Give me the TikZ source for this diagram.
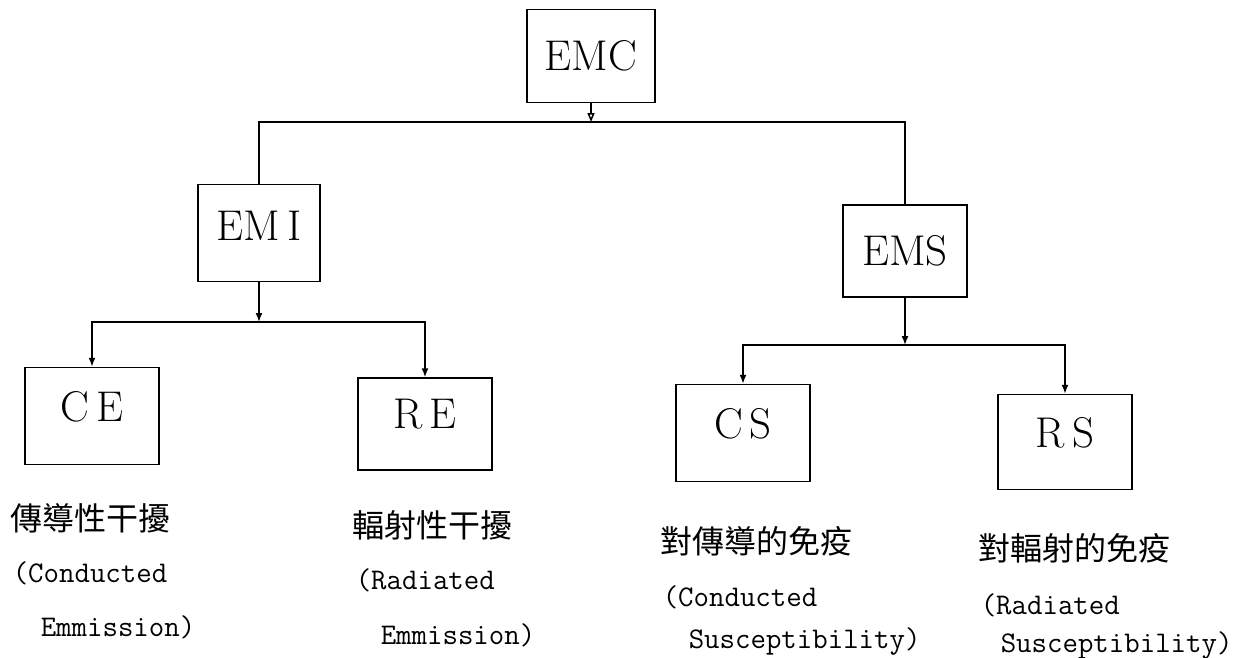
\documentclass[tikz,border=0pt]{standalone}
\usepackage{fontspec}
\usepackage{tikz}
\usetikzlibrary{arrows.meta}
\newfontfamily\cjk{Noto Sans CJK TC}

\begin{document}
\begin{tikzpicture}[x=1pt, y=-1pt, line width=1.5pt,
  box/.style={rectangle, draw, minimum width=134pt, minimum height=96pt, inner sep=0pt, font=\fontsize{43}{48}\selectfont},
  lowbox/.style={box, text depth=20pt},
  zh/.style={anchor=west, inner sep=0pt, font=\cjk\fontsize{32}{36}\selectfont},
  en/.style={anchor=west, inner sep=0pt, font=\ttfamily\fontsize{30}{34}\selectfont},
  arr/.style={-{Latex[length=9pt,width=7pt]}},
  arrb/.style={{Latex[length=9pt,width=7pt]}-{Latex[length=9pt,width=7pt]}}]
\useasboundingbox (0,0) rectangle (1247,657);

\node[box, minimum width=128pt, minimum height=93pt] (EMC) at (591,56) {EMC};
\node[box, minimum width=122pt, minimum height=97pt, text depth=14pt] (EMI) at (259,233) {EM\,I};
\node[box, minimum width=124pt, minimum height=92pt] (EMS) at (905,251) {EMS};
\node[lowbox, minimum height=97pt] (CE) at (92,416) {C\,E};
\node[lowbox, minimum height=92pt] (RE) at (425,424) {R\,E};
\node[lowbox, minimum height=97pt] (CS) at (743,433) {C\,S};
\node[lowbox, minimum height=95pt] (RS) at (1065,442) {R\,S};

\coordinate (topjoin) at (591,122);
\coordinate (emijoin) at (259,322);
\coordinate (emsjoin) at (905,345);

\draw[-{Triangle[open,length=9pt,width=7pt]}] (EMC.south) -- (topjoin);
\draw (EMI.north) |- (topjoin) -| (EMS.north);
\draw[arr] (EMI.south) -- (emijoin);
\draw[arrb] (CE.north) |- (emijoin) -| (RE.north);
\draw[arr] (EMS.south) -- (emsjoin);
\draw[arrb] (CS.north) |- (emsjoin) -| (RS.north);

\node[zh] (ceZh) at (10,518) {傳導性干擾};
\node[en] (ceEn) at (12,573) {(Conducted};
\node[en] (ceEn2) at (40,627) {Emmission)};
\node[zh] (reZh) at (352,525) {輻射性干擾};
\node[en] (reEn) at (355,580) {(Radiated};
\node[en] (reEn2) at (380,635) {Emmission)};
\node[zh] (csZh) at (660,541) {對傳導的免疫};
\node[en] (csEn) at (662,597) {(Conducted};
\node[en] (csEn2) at (688,641) {Susceptibility)};
\node[zh] (rsZh) at (978,548) {對輻射的免疫};
\node[en] (rsEn) at (980,605) {(Radiated};
\node[en] (rsEn2) at (1000,645) {Susceptibility)};
\end{tikzpicture}
\end{document}
